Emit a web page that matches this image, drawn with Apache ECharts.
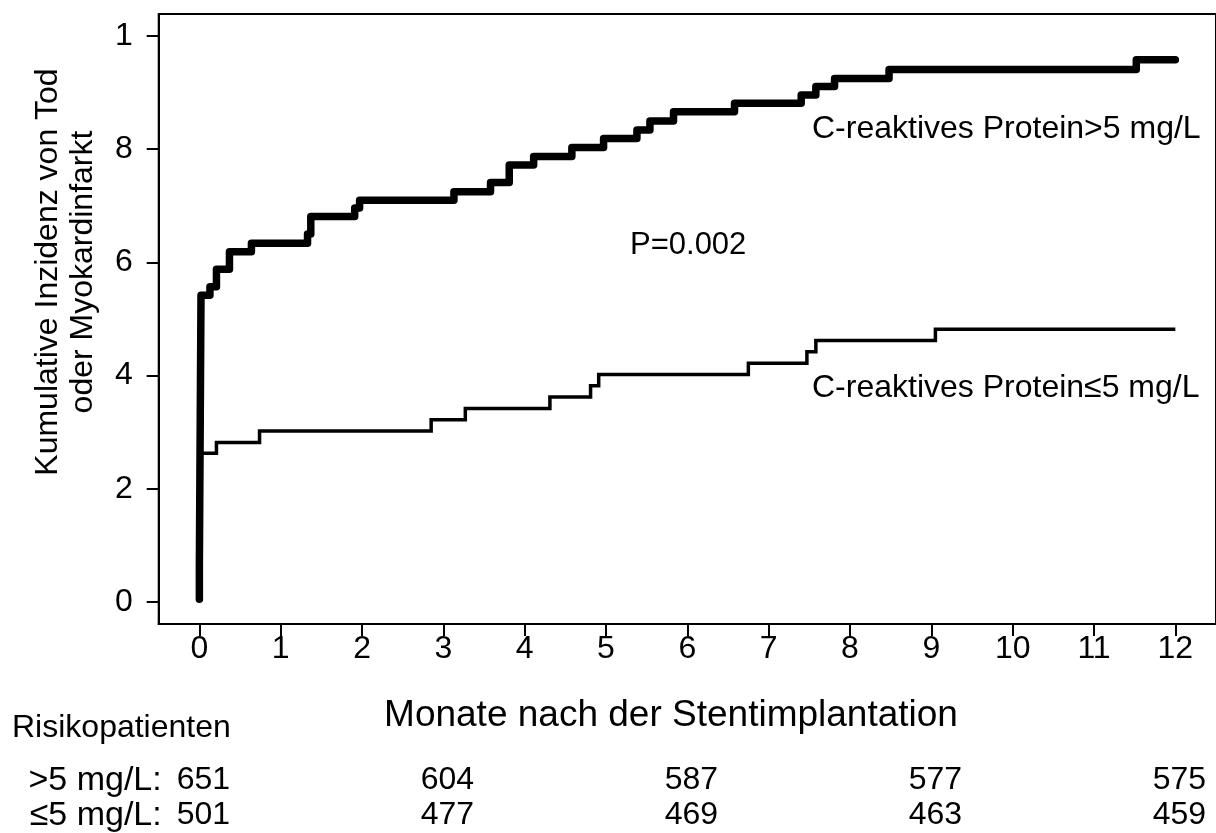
<!DOCTYPE html>
<html>
<head>
<meta charset="utf-8">
<script src="https://cdn.jsdelivr.net/npm/echarts@6/dist/echarts.min.js"></script>
<style>
html,body{margin:0;padding:0;background:#fff;}
#chart{width:1216px;height:833px;}
</style>
</head>
<body>
<div id="chart"></div>
<script>
// ---- data ----
const highCRP = [[0,0.05],[0.0,0.65],[0.02,5.42],[0.13,5.57],[0.21,5.88],[0.37,6.19],[0.64,6.34],[1.33,6.50],[1.37,6.81],[1.91,6.96],[1.97,7.10],[3.13,7.25],[3.58,7.41],[3.81,7.72],[4.11,7.87],[4.58,8.03],[4.97,8.19],[5.38,8.34],[5.54,8.50],[5.83,8.66],[6.58,8.81],[7.40,8.96],[7.58,9.11],[7.81,9.25],[8.48,9.41],[11.52,9.58],[12.0,9.58]];
const lowCRP = [[0,0],[0.02,2.63],[0.21,2.82],[0.74,3.02],[2.85,3.22],[3.27,3.42],[4.31,3.62],[4.81,3.82],[4.91,4.02],[6.75,4.22],[7.47,4.42],[7.58,4.62],[9.05,4.82],[12.0,4.82]];
const xTicks = [0,1,2,3,4,5,6,7,8,9,10,11,12];
const yTicks = [0,2,4,6,8,10];
const yTickLabels = ['0','2','4','6','8','1'];
const atRiskMonths = [0,3,6,9,12];
const atRiskHigh = [651,604,587,577,575];
const atRiskLow = [501,477,469,463,459];
const rowLabels = ['>5 mg/L:','\u22645 mg/L:'];
const labelHigh = 'C-reaktives Protein>5 mg/L';
const labelLow = 'C-reaktives Protein\u22645 mg/L';
const pText = 'P=0.002';
const xTitle = 'Monate nach der Stentimplantation';
const yTitle = 'Kumulative Inzidenz von Tod\noder Myokardinfarkt';
const tableTitle = 'Risikopatienten';

const FONT = '"Liberation Sans", Arial, Helvetica, sans-serif';
const chart = echarts.init(document.getElementById('chart'), null, {renderer:'canvas'});

const tableData = [];
atRiskMonths.forEach((m,i)=>{ tableData.push([m, rowLabels[0], atRiskHigh[i]]); });
atRiskMonths.forEach((m,i)=>{ tableData.push([m, rowLabels[1], atRiskLow[i]]); });

const GL = 158.7, GW = 1060.8;

chart.setOption({
  backgroundColor:'#fff',
  animation:false,
  textStyle:{fontFamily:FONT},
  grid:[
    {left:GL, top:14, width:GW, height:610, show:true, borderColor:'#000', borderWidth:2, backgroundColor:'transparent'},
    {left:GL, top:762.5, width:GW, height:74, show:false}
  ],
  xAxis:[
    {gridIndex:0, type:'value', min:-0.5, max:12.5,
     axisLine:{show:true, onZero:false, lineStyle:{color:'#000', width:2}},
     axisTick:{show:true, length:12, customValues:xTicks, lineStyle:{color:'#000', width:2}},
     axisLabel:{show:true, customValues:xTicks, margin:9, fontSize:32, color:'#000', fontFamily:FONT},
     splitLine:{show:false}},
    {gridIndex:1, type:'value', min:-0.5, max:12.5, show:false}
  ],
  yAxis:[
    {gridIndex:0, type:'value', min:-0.389, max:10.389,
     axisLine:{show:true, onZero:false, lineStyle:{color:'#000', width:2}},
     axisTick:{show:true, length:12, customValues:yTicks, lineStyle:{color:'#000', width:2}},
     axisLabel:{show:true, customValues:yTicks, margin:26, fontSize:32, color:'#000', fontFamily:FONT,
       formatter:(v)=>{const i=yTicks.indexOf(v); return i>=0?yTickLabels[i]:'';}},
     splitLine:{show:false}},
    {gridIndex:1, type:'category', data:rowLabels, inverse:true,
     axisLine:{show:false}, axisTick:{show:false},
     axisLabel:{show:true, interval:0, margin:-3, fontSize:34, color:'#000', fontFamily:FONT},
     splitLine:{show:false}}
  ],
  series:[
    {type:'line', name:labelLow, xAxisIndex:0, yAxisIndex:0, data:lowCRP, step:'end', showSymbol:false, symbol:'none',
     lineStyle:{color:'#000', width:3.5, join:'miter', cap:'butt'}, z:2},
    {type:'line', name:labelHigh, xAxisIndex:0, yAxisIndex:0, data:highCRP, step:'end', showSymbol:false, symbol:'none',
     lineStyle:{color:'#000', width:7.5, join:'round', cap:'round'}, z:3},
    {type:'scatter', xAxisIndex:1, yAxisIndex:1, data:tableData, symbolSize:0, itemStyle:{color:'#000', opacity:1},
     label:{show:true, position:'inside', fontSize:32, color:'#000', opacity:1, fontFamily:FONT, offset:[4,0],
       formatter:(p)=>String(p.value[2])}}
  ],
  graphic:[
    {type:'text', left:812, top:113, style:{text:labelHigh, font:'32px '+FONT, fill:'#000'}},
    {type:'text', left:812, top:372, style:{text:labelLow, font:'32px '+FONT, fill:'#000'}},
    {type:'text', left:630, top:230, style:{text:pText, font:'31px '+FONT, fill:'#000'}},
    {type:'text', x:671, y:716, style:{text:xTitle, font:'37px '+FONT, fill:'#000', textAlign:'center', textVerticalAlign:'middle'}},
    {type:'text', left:12, top:712, style:{text:tableTitle, font:'32px '+FONT, fill:'#000'}},
    {type:'text', x:66, y:272, rotation:Math.PI/2, style:{text:yTitle, font:'32px '+FONT, fill:'#000', textAlign:'center', textVerticalAlign:'middle', lineHeight:35}}
  ]
});
</script>
</body>
</html>
